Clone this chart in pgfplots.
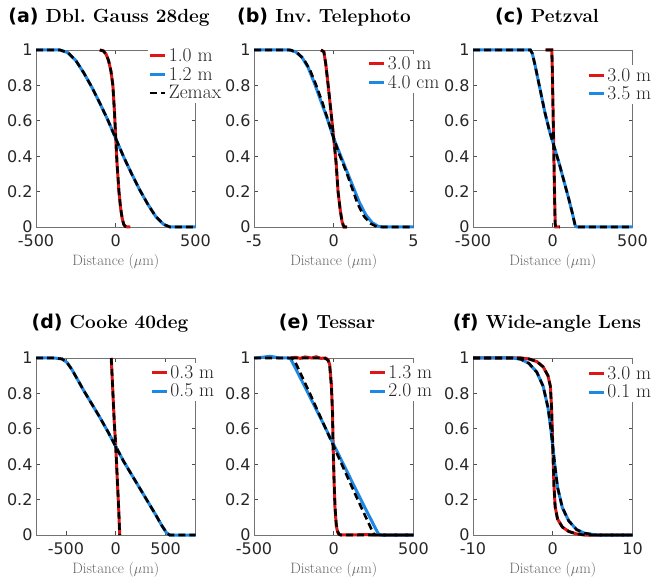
\documentclass[border=0pt]{standalone}
\usepackage{fontspec}
\usepackage{pgfplots}
\pgfplotsset{compat=1.18}
\newfontfamily\ticksans{DejaVu Sans}
\newfontfamily\titlesans{DejaVu Sans}
% legend cells come out smaller than asked, so ask for more
\newcommand\lgf{\fontsize{19.5}{24}\selectfont}

\definecolor{mred}{RGB}{222,22,22}
\definecolor{mblue}{RGB}{30,136,229}
\definecolor{tickgray}{RGB}{38,38,38}

\pgfplotsset{
  esf/.style={
    scale only axis, width=159.5pt, height=177pt, anchor=south west,
    ymin=0, ymax=1,
    ytick={0,0.2,0.4,0.6,0.8,1}, yticklabels={0,0.2,0.4,0.6,0.8,1},
    tick align=inside, major tick length=4pt,
    axis line style={black!55, line width=0.6pt},
    every tick/.style={black!70, line width=0.6pt},
    ticklabel style={font=\fontsize{16}{19}\selectfont\ticksans, text=tickgray},
    xticklabel style={yshift=-4.5pt},
    /pgf/number format/assume math mode=true,
    xlabel={Distance ($\mu$m)},
    xlabel style={font=\fontsize{15}{18}\selectfont, text=black!60, yshift=-0.5pt},
    clip=false,
    legend style={anchor=north west, draw=none, fill=white, inner sep=1pt,
      text=black!85, font=\lgf},
    legend cell align=left,
    legend image code/.code={\draw[##1] (0pt,0pt) -- (15pt,0pt);},
  },
  colr/.style={color=mred, line width=3pt, no marks},
  colb/.style={color=mblue, line width=3pt, no marks},
  zem/.style={black, line width=2.6pt, dash pattern=on 7pt off 4pt, no marks},
}

\begin{document}
\begin{tikzpicture}[x=1pt,y=1pt]
\path[use as bounding box] (0,0) rectangle (652,580);

% (a) Dbl. Gauss 28deg
\begin{axis}[esf, at={(36pt,353pt)}, xmin=-500, xmax=500,
  xtick={-500,0,500}, xticklabels={-500,0,500},
  legend style={at={(0.70,1.025)}}]
\addplot[colr] coordinates {(-100,1) (-78,0.995) (-60,0.975) (-45,0.94) (-30,0.88) (-18,0.8) (-8,0.65) (0,0.5) (8,0.36) (20,0.2) (30,0.11) (40,0.05) (50,0.015) (60,0.003) (75,0) (90,0)};
\addlegendentry{1.0 m}
\addplot[colb] coordinates {(-500,1) (-350,1) (-300,0.985) (-250,0.94) (-200,0.87) (-150,0.79) (-100,0.7) (-50,0.605) (0,0.5) (50,0.395) (100,0.3) (150,0.21) (200,0.13) (250,0.06) (300,0.015) (340,0) (500,0)};
\addlegendentry{1.2 m}
\addplot[zem] coordinates {(-100,1) (-78,0.995) (-60,0.975) (-45,0.94) (-30,0.88) (-18,0.8) (-8,0.65) (0,0.5) (8,0.36) (20,0.2) (30,0.11) (40,0.05) (50,0.015) (60,0.003) (75,0) (90,0)};
\addlegendentry{Zemax}
\addplot[zem, forget plot] coordinates {(-500,1) (-350,1) (-300,0.985) (-250,0.94) (-200,0.87) (-150,0.79) (-100,0.7) (-50,0.605) (0,0.5) (50,0.395) (100,0.3) (150,0.21) (200,0.13) (250,0.06) (300,0.015) (340,0) (500,0)};
\end{axis}

% (b) Inv. Telephoto
\begin{axis}[esf, at={(254pt,353pt)}, xmin=-5, xmax=5,
  xtick={-5,0,5}, xticklabels={-5,0,5},
  legend style={at={(0.706,0.98)}}]
\addplot[colr] coordinates {(-0.8,1) (-0.62,0.99) (-0.5,0.92) (-0.35,0.8) (-0.15,0.63) (0,0.5) (0.15,0.36) (0.27,0.2) (0.4,0.1) (0.52,0.03) (0.62,0) (0.8,0)};
\addlegendentry{3.0 m}
\addplot[colb] coordinates {(-5,1) (-2.8,1) (-2.4,0.99) (-2.0,0.96) (-1.6,0.9) (-1.2,0.81) (-0.8,0.71) (-0.4,0.61) (0,0.5) (0.4,0.41) (0.8,0.32) (1.2,0.23) (1.6,0.14) (2.0,0.07) (2.4,0.025) (2.8,0.003) (3.2,0) (5,0)};
\addlegendentry{4.0 cm}
\addplot[zem, forget plot] coordinates {(-0.8,1) (-0.62,0.99) (-0.5,0.92) (-0.35,0.8) (-0.15,0.63) (0,0.5) (0.15,0.36) (0.27,0.2) (0.4,0.1) (0.52,0.03) (0.65,0) (0.85,0)};
\addplot[zem, forget plot] coordinates {(-5,1) (-2.7,1) (-2.3,0.985) (-1.9,0.95) (-1.5,0.89) (-1.1,0.8) (-0.7,0.7) (-0.35,0.6) (0,0.5) (0.35,0.41) (0.75,0.32) (1.15,0.22) (1.5,0.13) (1.9,0.06) (2.3,0.02) (2.7,0.002) (3.0,0) (5,0)};
\end{axis}

% (c) Petzval
\begin{axis}[esf, at={(473pt,353pt)}, xmin=-500, xmax=500,
  xtick={-500,0,500}, xticklabels={-500,0,500},
  legend style={at={(0.71,0.915)}}]
\addplot[colr] coordinates {(-45,1) (-6,1) (-3,0.9) (0,0.75) (3,0.6) (6,0.45) (9,0.3) (12,0.15) (15,0.02) (18,0) (45,0)};
\addlegendentry{3.0 m}
\addplot[colb] coordinates {(-500,1) (-140,1) (-128,0.98) (-110,0.91) (-80,0.78) (-50,0.65) (-20,0.54) (10,0.45) (40,0.36) (70,0.26) (100,0.16) (125,0.07) (140,0.01) (150,0) (500,0)};
\addlegendentry{3.5 m}
\addplot[zem, forget plot] coordinates {(-45,1) (-6,1) (-3,0.9) (0,0.75) (3,0.6) (6,0.45) (9,0.3) (12,0.15) (15,0.02) (18,0) (45,0)};
\addplot[zem, forget plot] coordinates {(-500,1) (-140,1) (-128,0.98) (-110,0.91) (-80,0.78) (-50,0.65) (-20,0.54) (10,0.45) (40,0.36) (70,0.26) (100,0.16) (125,0.07) (140,0.01) (150,0) (500,0)};
\end{axis}

% (d) Cooke 40deg
\begin{axis}[esf, at={(36pt,45pt)}, xmin=-800, xmax=800,
  xtick={-500,0,500}, xticklabels={-500,0,500},
  legend style={at={(0.71,0.975)}}]
\addplot[colr] coordinates {(-45,1) (-30,0.82) (-15,0.64) (0,0.5) (15,0.32) (30,0.14) (40,0)};
\addlegendentry{0.3 m}
\addplot[colb] coordinates {(-800,1) (-620,1) (-540,0.995) (-490,0.975) (-440,0.935) (-380,0.875) (-320,0.815) (-240,0.74) (-160,0.665) (-80,0.585) (0,0.5) (80,0.415) (160,0.34) (240,0.265) (320,0.19) (400,0.115) (460,0.055) (510,0.012) (540,0) (800,0)};
\addlegendentry{0.5 m}
\addplot[zem, forget plot] coordinates {(-45,1) (-30,0.82) (-15,0.64) (0,0.5) (15,0.32) (30,0.14) (40,0)};
\addplot[zem, forget plot] coordinates {(-800,1) (-620,1) (-540,0.995) (-490,0.975) (-440,0.935) (-380,0.875) (-320,0.815) (-240,0.74) (-160,0.665) (-80,0.585) (0,0.5) (80,0.415) (160,0.34) (240,0.265) (320,0.19) (400,0.115) (460,0.055) (510,0.012) (540,0) (800,0)};
\end{axis}

% (e) Tessar
\begin{axis}[esf, at={(254pt,45pt)}, xmin=-500, xmax=500,
  xtick={-500,0,500}, xticklabels={-500,0,500},
  legend style={at={(0.71,0.975)}}]
\addplot[colr] coordinates {(-270,1) (-240,1.004) (-210,0.998) (-180,1.006) (-140,1.0) (-110,1.007) (-80,0.998) (-52,1.0) (-35,0.99) (-25,0.96) (-15,0.85) (-8,0.7) (-4,0.5) (2,0.3) (8,0.15) (16,0.05) (25,0.015) (33,0.003) (45,0) (200,0.002) (300,0) (500,0)};
\addlegendentry{1.3 m}
\addplot[colb] coordinates {(-500,1) (-440,1.005) (-400,1.01) (-340,1.0) (-285,1.0) (-270,0.995) (-160,0.8) (0,0.51) (170,0.2) (260,0.04) (281,0.005) (295,0) (500,0)};
\addlegendentry{2.0 m}
\addplot[zem, forget plot] coordinates {(-270,1) (-200,1) (-100,1) (-52,0.998) (-35,0.985) (-25,0.95) (-15,0.84) (-8,0.69) (-4,0.5) (2,0.31) (8,0.16) (16,0.06) (25,0.02) (33,0.004) (45,0) (500,0)};
\addplot[zem, forget plot] coordinates {(-500,1) (-265,1) (-250,0.99) (-235,0.965) (-150,0.8) (0,0.5) (150,0.2) (235,0.035) (250,0.008) (262,0) (500,0)};
\end{axis}

% (f) Wide-angle Lens
\begin{axis}[esf, at={(473pt,45pt)}, xmin=-10, xmax=10,
  xtick={-10,0,10}, xticklabels={-10,0,10},
  legend style={at={(0.71,0.97)}}]
\addplot[colr] coordinates {(-10,1) (-4,1) (-3,0.995) (-2,0.98) (-1.2,0.95) (-0.6,0.9) (-0.3,0.84) (-0.15,0.72) (0,0.5) (0.15,0.28) (0.3,0.16) (0.6,0.09) (1.2,0.045) (2,0.02) (3,0.006) (4,0) (10,0)};
\addlegendentry{3.0 m}
\addplot[colb] coordinates {(-10,1) (-5,1) (-4,0.993) (-3,0.97) (-2,0.92) (-1.2,0.84) (-0.6,0.72) (-0.3,0.62) (0,0.5) (0.3,0.38) (0.6,0.27) (1.2,0.155) (2,0.08) (3,0.03) (4,0.01) (5.5,0) (10,0)};
\addlegendentry{0.1 m}
\addplot[zem, forget plot] coordinates {(-10,1) (-4,1) (-3,0.995) (-2,0.98) (-1.2,0.95) (-0.6,0.9) (-0.3,0.84) (-0.15,0.72) (0,0.5) (0.15,0.28) (0.3,0.16) (0.6,0.09) (1.2,0.045) (2,0.02) (3,0.006) (4,0) (10,0)};
\addplot[zem, forget plot] coordinates {(-10,1) (-5,1) (-4,0.993) (-3,0.97) (-2,0.92) (-1.2,0.84) (-0.6,0.72) (-0.3,0.62) (0,0.5) (0.3,0.38) (0.6,0.27) (1.2,0.155) (2,0.08) (3,0.03) (4,0.01) (5.5,0) (10,0)};
\end{axis}

% titles
\begin{scope}[every node/.style={font=\fontsize{19}{22}\selectfont\bfseries}]
\node at (109,563) {{\titlesans (a)} Dbl.\ Gauss 28deg};
\node at (324,563) {{\titlesans (b)} Inv.\ Telephoto};
\node at (547,563) {{\titlesans (c)} Petzval};
\node at (110,257) {{\titlesans (d)} Cooke 40deg};
\node at (327,257) {{\titlesans (e)} Tessar};
\node at (547,257) {{\titlesans (f)} Wide-angle Lens};
\end{scope}
\end{tikzpicture}
\end{document}
